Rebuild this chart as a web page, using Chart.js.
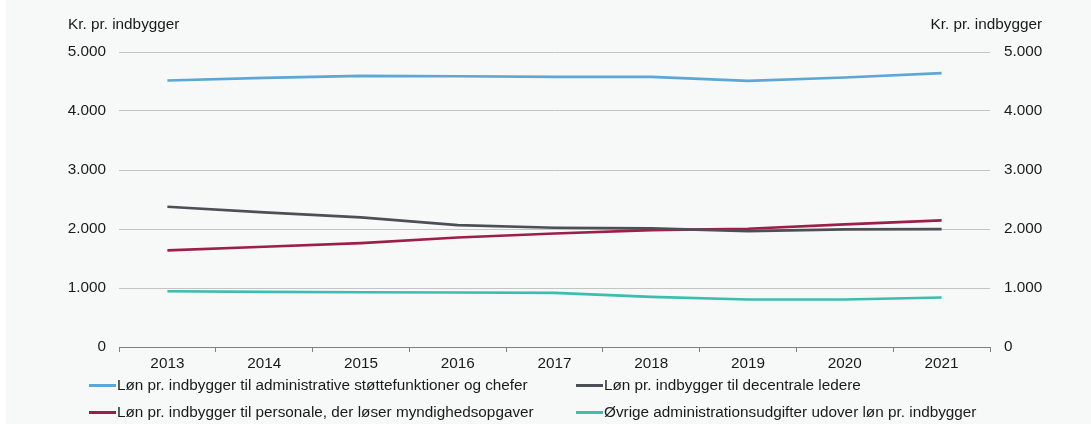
<!DOCTYPE html>
<html lang="da">
<head>
<meta charset="utf-8">
<title>Kr. pr. indbygger</title>
<script src="https://cdn.jsdelivr.net/npm/chart.js@4/dist/chart.umd.min.js"></script>
<style>
    html, body { margin: 0; padding: 0; background: #ffffff; }
    body { width: 1091px; height: 424px; position: relative; overflow: hidden;
           font-family: "Liberation Sans", Arial, sans-serif; }
    #bg { position: absolute; left: 6px; top: 0; width: 1085px; height: 424px; background: #f7f9f9; }
    #chart { position: absolute; left: 0; top: 0; }
    #legend { position: absolute; left: 0; top: 0; width: 1091px; height: 424px; pointer-events: none; }
    .item { position: absolute; display: flex; align-items: center; font-size: 15.3px; color: #1a1a1a;
            height: 20px; white-space: nowrap; }
    .item .swatch { width: 27px; height: 3px; margin-right: 1px; }
</style>
</head>
<body>
<div id="bg"></div>
<canvas id="chart" width="1091" height="375"></canvas>
<div id="legend"></div>

<script>
// ===== DATA =====
const years = ['2013', '2014', '2015', '2016', '2017', '2018', '2019', '2020', '2021'];

const seriesLabels = [
    'Løn pr. indbygger til administrative støttefunktioner og chefer',
    'Løn pr. indbygger til decentrale ledere',
    'Løn pr. indbygger til personale, der løser myndighedsopgaver',
    'Øvrige administrationsudgifter udover løn pr. indbygger'
];

const adminStotte = [4516, 4562, 4596, 4590, 4579, 4579, 4511, 4567, 4642];
const decentrale  = [2377, 2282, 2197, 2066, 2020, 2010, 1964, 1993, 1998];
const myndighed   = [1637, 1698, 1761, 1857, 1925, 1981, 2003, 2078, 2146];
const ovrige      = [946, 934, 929, 923, 917, 849, 805, 805, 839];

const yTicks = [0, 1000, 2000, 3000, 4000, 5000];
const axisTitle = 'Kr. pr. indbygger';

const colors = ['#5ea7d4', '#4d4f57', '#9c1f4a', '#3dbdb0'];

// ===== HELPERS =====
const FONT = '"Liberation Sans", Arial, sans-serif';
const FONT_SIZE = 15.3;

function formatDa(v) {
    return String(v).replace(/\B(?=(\d{3})+(?!\d))/g, '.');
}

// draws the two "Kr. pr. indbygger" titles above the y axes
const axisTitles = {
    id: 'axisTitles',
    afterDraw(chart) {
        const ctx = chart.ctx;
        ctx.save();
        ctx.font = FONT_SIZE + 'px ' + FONT;
        ctx.fillStyle = '#1a1a1a';
        ctx.textBaseline = 'middle';
        ctx.textAlign = 'left';
        ctx.fillText(axisTitle, 68, 25);
        ctx.textAlign = 'right';
        ctx.fillText(axisTitle, 1042, 25);
        ctx.restore();
    }
};

const yAxisBase = {
    min: yTicks[0],
    max: yTicks[yTicks.length - 1],
    afterBuildTicks(scale) {
        scale.ticks = yTicks.map(v => ({ value: v }));
    },
    border: { display: false },
    ticks: {
        color: '#1a1a1a',
        font: { family: FONT, size: FONT_SIZE },
        callback: (value) => formatDa(value)
    }
};

// ===== CHART =====
const datasets = [adminStotte, decentrale, myndighed, ovrige].map((data, i) => ({
    label: seriesLabels[i],
    data: data,
    borderColor: colors[i],
    backgroundColor: colors[i],
    borderWidth: 2.6,
    pointRadius: 0,
    tension: 0,
    fill: false
}));

const chart = new Chart(document.getElementById('chart').getContext('2d'), {
    type: 'line',
    data: { labels: years, datasets: datasets },
    options: {
        responsive: false,
        animation: false,
        layout: { padding: { top: 52, left: 0, right: 0, bottom: 0 } },
        plugins: {
            legend: { display: false },
            tooltip: { enabled: false }
        },
        scales: {
            x: {
                offset: true,
                grid: {
                    display: true,
                    offset: true,
                    drawOnChartArea: false,
                    drawTicks: true,
                    tickLength: 5,
                    color: '#808080'
                },
                border: { display: true, color: '#808080', width: 1 },
                ticks: {
                    color: '#1a1a1a',
                    padding: 3,
                    font: { family: FONT, size: FONT_SIZE }
                },
                afterFit(scale) { scale.height = 28; }
            },
            y: {
                ...yAxisBase,
                position: 'left',
                grid: { color: '#c4c4c4', lineWidth: 1, drawTicks: false },
                ticks: { ...yAxisBase.ticks, padding: 13 },
                afterFit(scale) { scale.width = 119; }
            },
            y2: {
                ...yAxisBase,
                position: 'right',
                grid: { display: false, drawTicks: false },
                ticks: { ...yAxisBase.ticks, padding: 14 },
                afterFit(scale) { scale.width = 101; }
            }
        }
    },
    plugins: [axisTitles]
});

// ===== LEGEND (two columns, under the axis) =====
const legendEl = document.getElementById('legend');
chart.data.datasets.forEach((ds, i) => {
    const item = document.createElement('div');
    item.className = 'item';
    item.style.left = (i % 2 === 0 ? 89 : 576) + 'px';
    item.style.top = (375 + Math.floor(i / 2) * 27) + 'px';
    const sw = document.createElement('span');
    sw.className = 'swatch';
    sw.style.background = ds.borderColor;
    const txt = document.createElement('span');
    txt.textContent = ds.label;
    item.appendChild(sw);
    item.appendChild(txt);
    legendEl.appendChild(item);
});
</script>
</body>
</html>
